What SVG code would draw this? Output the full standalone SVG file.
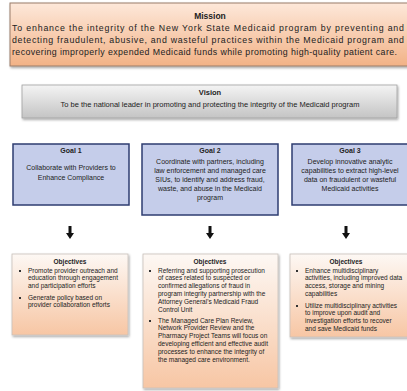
<svg xmlns="http://www.w3.org/2000/svg" width="407" height="391" viewBox="0 0 407 391">
<defs>
<linearGradient id="gMission" x1="0" y1="0" x2="0" y2="1">
<stop offset="0" stop-color="#fde8da"/>
<stop offset="1" stop-color="#f2b286"/>
</linearGradient>
<linearGradient id="gVision" x1="0" y1="0" x2="0" y2="1">
<stop offset="0" stop-color="#f4f4f4"/>
<stop offset="1" stop-color="#c4c4c4"/>
</linearGradient>
<linearGradient id="gObj" x1="0" y1="0" x2="0" y2="1">
<stop offset="0" stop-color="#fdf8f4"/>
<stop offset="1" stop-color="#f7c6a4"/>
</linearGradient>
<filter id="shadow" x="-5%" y="-5%" width="115%" height="120%">
<feDropShadow dx="1" dy="1.5" stdDeviation="1" flood-color="#000" flood-opacity="0.35"/>
</filter>
</defs>
<style>
text{font-family:"Liberation Sans",Arial,sans-serif;fill:#222;}
.title{font-weight:bold;text-anchor:middle;}
.mission{font-size:8.8px;}
.vis{font-size:7.5px;text-anchor:middle;}
.goal{font-size:7px;text-anchor:middle;}
.obj{font-size:6.5px;}
.mbox{fill:url(#gMission);stroke:#9a7d6b;stroke-width:1;filter:url(#shadow);}
.vbox{fill:url(#gVision);stroke:#a0a0a0;stroke-width:0.8;filter:url(#shadow);}
.gbox{fill:#c5cdea;stroke:#2e3d70;stroke-width:1.5;}
.obox{fill:url(#gObj);stroke:#c9c1bb;stroke-width:0.8;filter:url(#shadow);}
.arrow{fill:#111;}
.bul{fill:#333;}
</style>

<g id="mission">
<rect class="mbox" x="10" y="3" width="405" height="63"/>
<text class="title" x="210" y="19" font-size="8.5">Mission</text>
<text class="mission" x="12" y="31" textLength="392" lengthAdjust="spacing">To enhance the integrity of the New York State Medicaid program by preventing and</text>
<text class="mission" x="12" y="43" textLength="392" lengthAdjust="spacing">detecting fraudulent, abusive, and wasteful practices within the Medicaid program and</text>
<text class="mission" x="12" y="55" textLength="385" lengthAdjust="spacing">recovering improperly expended Medicaid funds while promoting high-quality patient care.</text>
</g>

<g id="vision">
<rect class="vbox" x="22" y="85" width="375" height="33"/>
<text class="title" x="210" y="95" font-size="7.5">Vision</text>
<text class="vis" x="210" y="107">To be the national leader in promoting and protecting the integrity of the Medicaid program</text>
</g>

<g id="goal1">
<rect class="gbox" x="13" y="144" width="116" height="61"/>
<text class="title" x="71" y="153" font-size="7">Goal 1</text>
<text class="goal" x="71" y="170">Collaborate with Providers to</text>
<text class="goal" x="71" y="180">Enhance Compliance</text>
</g>

<g id="goal2">
<rect class="gbox" x="142" y="144" width="136" height="71"/>
<text class="title" x="210" y="153" font-size="7">Goal 2</text>
<text class="goal" x="210" y="164">Coordinate with partners, including</text>
<text class="goal" x="210" y="173">law enforcement and managed care</text>
<text class="goal" x="210" y="182">SIUs, to identify and address fraud,</text>
<text class="goal" x="210" y="191">waste, and abuse in the Medicaid</text>
<text class="goal" x="210" y="200">program</text>
</g>

<g id="goal3">
<rect class="gbox" x="292" y="144" width="120" height="61"/>
<text class="title" x="350" y="153" font-size="7">Goal 3</text>
<text class="goal" x="350" y="164">Develop innovative analytic</text>
<text class="goal" x="350" y="173">capabilities to extract high-level</text>
<text class="goal" x="350" y="182">data on fraudulent or wasteful</text>
<text class="goal" x="350" y="191">Medicaid activities</text>
</g>

<g id="connectors">
<path class="arrow" d="M68.5 226 h3 v7 h2.5 l-4 6 l-4 -6 h2.5 z"/>
<path class="arrow" d="M208.5 226 h3 v7 h2.5 l-4 6 l-4 -6 h2.5 z"/>
<path class="arrow" d="M344.5 226 h3 v7 h2.5 l-4 6 l-4 -6 h2.5 z"/>
</g>

<g id="objectives1">
<rect class="obox" x="12" y="254" width="116" height="81"/>
<text class="title" x="70" y="264" font-size="6.5">Objectives</text>
<rect class="bul" x="19" y="270" width="2" height="2"/>
<text class="obj" x="28" y="272.5">Promote provider outreach and</text>
<text class="obj" x="28" y="280.3">education through engagement</text>
<text class="obj" x="28" y="288.1">and participation efforts</text>
<rect class="bul" x="19" y="297" width="2" height="2"/>
<text class="obj" x="28" y="299.5">Generate policy based on</text>
<text class="obj" x="28" y="307.3">provider collaboration efforts</text>
</g>

<g id="objectives2">
<rect class="obox" x="143" y="254" width="135" height="134"/>
<text class="title" x="210" y="264" font-size="6.5">Objectives</text>
<rect class="bul" x="149" y="270" width="2" height="2"/>
<text class="obj" x="158" y="272.5">Referring and supporting prosecution</text>
<text class="obj" x="158" y="280.3">of cases related to suspected or</text>
<text class="obj" x="158" y="288.1">confirmed allegations of fraud in</text>
<text class="obj" x="158" y="295.9">program integrity partnership with the</text>
<text class="obj" x="158" y="303.7">Attorney General's Medicaid Fraud</text>
<text class="obj" x="158" y="311.5">Control Unit</text>
<rect class="bul" x="149" y="320" width="2" height="2"/>
<text class="obj" x="158" y="322.5">The Managed Care Plan Review,</text>
<text class="obj" x="158" y="330.3">Network Provider Review and the</text>
<text class="obj" x="158" y="338.1">Pharmacy Project Teams will focus on</text>
<text class="obj" x="158" y="345.9">developing efficient and effective audit</text>
<text class="obj" x="158" y="353.7">processes to enhance the integrity of</text>
<text class="obj" x="158" y="361.5">the managed care environment.</text>
</g>

<g id="objectives3">
<rect class="obox" x="290" y="254" width="125" height="83"/>
<text class="title" x="346" y="264" font-size="6.5">Objectives</text>
<rect class="bul" x="296" y="270" width="2" height="2"/>
<text class="obj" x="305" y="272.5">Enhance multidisciplinary</text>
<text class="obj" x="305" y="280.3">activities, including improved data</text>
<text class="obj" x="305" y="288.1">access, storage and mining</text>
<text class="obj" x="305" y="295.9">capabilities</text>
<rect class="bul" x="296" y="305" width="2" height="2"/>
<text class="obj" x="305" y="307.5">Utilize multidisciplinary activities</text>
<text class="obj" x="305" y="315.3">to improve upon audit and</text>
<text class="obj" x="305" y="323.1">investigation efforts to recover</text>
<text class="obj" x="305" y="330.9">and save Medicaid funds</text>
</g>
</svg>
